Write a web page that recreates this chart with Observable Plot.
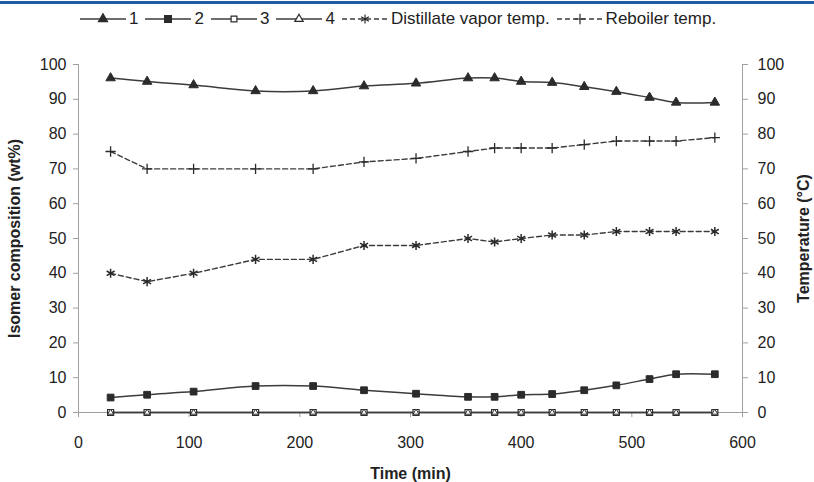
<!DOCTYPE html>
<html><head><meta charset="utf-8">
<script src="https://cdn.jsdelivr.net/npm/d3@7"></script>
<script src="https://cdn.jsdelivr.net/npm/@observablehq/plot@0.6"></script>
<style>
body{margin:0;background:#fff;font-family:"Liberation Sans",Arial,sans-serif;}
#wrap{width:814px;height:482px;position:relative;overflow:hidden;background:#fff}
#topline{position:absolute;left:0;top:1px;width:814px;height:3px;background:#1f5ba3}
#legend{height:35px;display:flex;align-items:center;padding-left:80px;padding-top:2px;box-sizing:border-box;font-size:17px;color:#222}
.item{display:flex;align-items:center;margin-right:7px}
.item span{margin-left:3px;line-height:17px}
#chart svg{display:block}
</style></head><body>
<div id="wrap"><div id="topline"></div><div id="legend"></div><div id="chart"></div></div>
<script>
// Data
const time = [29, 62, 104, 160, 212, 258, 305, 352, 376, 400, 428, 457, 486, 516, 540, 575];
const isomer1 = [96.1, 95.1, 94.1, 92.4, 92.4, 93.8, 94.6, 96.1, 96.1, 95.1, 94.8, 93.6, 92.2, 90.5, 89.1, 89.1];
const isomer2 = [4.3, 5.1, 6.0, 7.6, 7.6, 6.4, 5.4, 4.5, 4.5, 5.1, 5.3, 6.4, 7.8, 9.6, 11.0, 11.0];
const isomer3 = [0, 0, 0, 0, 0, 0, 0, 0, 0, 0, 0, 0, 0, 0, 0, 0];
const isomer4 = [0, 0, 0, 0, 0, 0, 0, 0, 0, 0, 0, 0, 0, 0, 0, 0];
const distillateTemp = [40, 37.6, 40, 44, 44, 48, 48, 50, 49, 50, 51, 51, 52, 52, 52, 52];
const reboilerTemp = [75, 70, 70, 70, 70, 72, 73, 75, 76, 76, 76, 77, 78, 78, 78, 79];
const seriesNames = ["1", "2", "3", "4", "Distillate vapor temp.", "Reboiler temp."];
const xTicks = [0, 100, 200, 300, 400, 500, 600];
const yTicks = [0, 10, 20, 30, 40, 50, 60, 70, 80, 90, 100];
const xLabel = "Time (min)";
const yLeftLabel = "Isomer composition (wt%)";
const yRightLabel = "Temperature (°C)";

const rows = vals => time.map((t, i) => ({t, v: vals[i]}));
const ink = "#2b2b2b";
const lineCol = "#3c3c3c";
const axisCol = "#a0a0a0";
const dash = "5,3";

// legend
const legendSpec = [
  {name: seriesNames[0], sym: d3.symbolTriangle, size: 36, fill: ink, dash: null},
  {name: seriesNames[1], sym: d3.symbolSquare, size: 46, fill: ink, dash: null},
  {name: seriesNames[2], sym: d3.symbolSquare, size: 34, fill: "#fff", dash: null},
  {name: seriesNames[3], sym: d3.symbolTriangle, size: 30, fill: "#fff", dash: null},
  {name: seriesNames[4], sym: d3.symbolAsterisk, size: 56, fill: "none", dash: dash},
  {name: seriesNames[5], sym: d3.symbolPlus, size: 38, fill: "none", dash: dash}
];
const legend = d3.select("#legend");
for (const s of legendSpec) {
  const it = legend.append("div").attr("class", "item");
  const sv = it.append("svg").attr("width", 46).attr("height", 14);
  sv.append("line").attr("x1", 0).attr("x2", 46).attr("y1", 7).attr("y2", 7)
    .attr("stroke", lineCol).attr("stroke-width", 1.4).attr("stroke-dasharray", s.dash);
  sv.append("path").attr("d", d3.symbol(s.sym, s.size)()).attr("transform", "translate(23,7)")
    .attr("fill", s.fill).attr("stroke", ink).attr("stroke-width", 1.2);
  it.append("span").text(s.name);
}

const plot = Plot.plot({
  width: 814, height: 447,
  marginLeft: 78, marginRight: 72, marginTop: 29, marginBottom: 70,
  x: {domain: [0, 600]},
  y: {domain: [0, 100]},
  style: {fontFamily: "'Liberation Sans', Arial, sans-serif", fontSize: "16px", color: "#222", background: "#fff"},
  marks: [
    Plot.ruleX([0, 600], {stroke: axisCol}),
    Plot.ruleY([0], {stroke: axisCol}),
    Plot.axisY({anchor: "left", ticks: yTicks, tickSize: 5, tickPadding: 7, label: null, stroke: axisCol, fill: "#222"}),
    Plot.axisY({anchor: "right", ticks: yTicks, tickSize: 5, tickPadding: 10, label: null, stroke: axisCol, fill: "#222"}),
    Plot.axisX({ticks: xTicks, tickSize: 5, tickPadding: 19, label: null, stroke: axisCol, fill: "#222"}),
    // temperatures (dashed)
    Plot.line(rows(reboilerTemp), {x: "t", y: "v", stroke: lineCol, strokeWidth: 1.4, strokeDasharray: dash}),
    Plot.dot(rows(reboilerTemp), {x: "t", y: "v", symbol: "plus", r: 3.4, stroke: ink, strokeWidth: 1.3}),
    Plot.line(rows(distillateTemp), {x: "t", y: "v", stroke: lineCol, strokeWidth: 1.4, strokeDasharray: dash}),
    Plot.dot(rows(distillateTemp), {x: "t", y: "v", symbol: "asterisk", r: 4.3, stroke: ink, strokeWidth: 1.5}),
    // isomers
    Plot.line(rows(isomer1), {x: "t", y: "v", curve: "catmull-rom", stroke: lineCol, strokeWidth: 1.5}),
    Plot.dot(rows(isomer1), {x: "t", y: "v", symbol: "triangle", r: 3.5, fill: ink, stroke: ink, strokeWidth: 1}),
    Plot.line(rows(isomer2), {x: "t", y: "v", curve: "catmull-rom", stroke: lineCol, strokeWidth: 1.5}),
    Plot.dot(rows(isomer2), {x: "t", y: "v", symbol: "square", r: 3.8, fill: ink, stroke: ink, strokeWidth: 1}),
    Plot.line(rows(isomer3), {x: "t", y: "v", stroke: lineCol, strokeWidth: 1.5}),
    Plot.line(rows(isomer4), {x: "t", y: "v", stroke: lineCol, strokeWidth: 1.5}),
    Plot.dot(rows(isomer3), {x: "t", y: "v", symbol: "square", r: 3.4, fill: "#fff", stroke: ink, strokeWidth: 1.2}),
    Plot.dot(rows(isomer4), {x: "t", y: "v", symbol: "triangle", r: 2.2, fill: "#fff", stroke: ink, strokeWidth: 1}),
    // axis titles
    Plot.text([xLabel], {text: d => d, frameAnchor: "bottom", dy: 61, lineAnchor: "middle", fontWeight: "bold", fontSize: 16, fill: "#222"}),
    Plot.text([yLeftLabel], {text: d => d, frameAnchor: "left", dx: -64, rotate: -90, textAnchor: "middle", lineAnchor: "middle", fontWeight: "bold", fontSize: 16, fill: "#222"}),
    Plot.text([yRightLabel], {text: d => d, frameAnchor: "right", dx: 61, rotate: -90, textAnchor: "middle", lineAnchor: "middle", fontWeight: "bold", fontSize: 16, fill: "#222"})
  ]
});
document.getElementById("chart").appendChild(plot);
</script>
</body></html>
